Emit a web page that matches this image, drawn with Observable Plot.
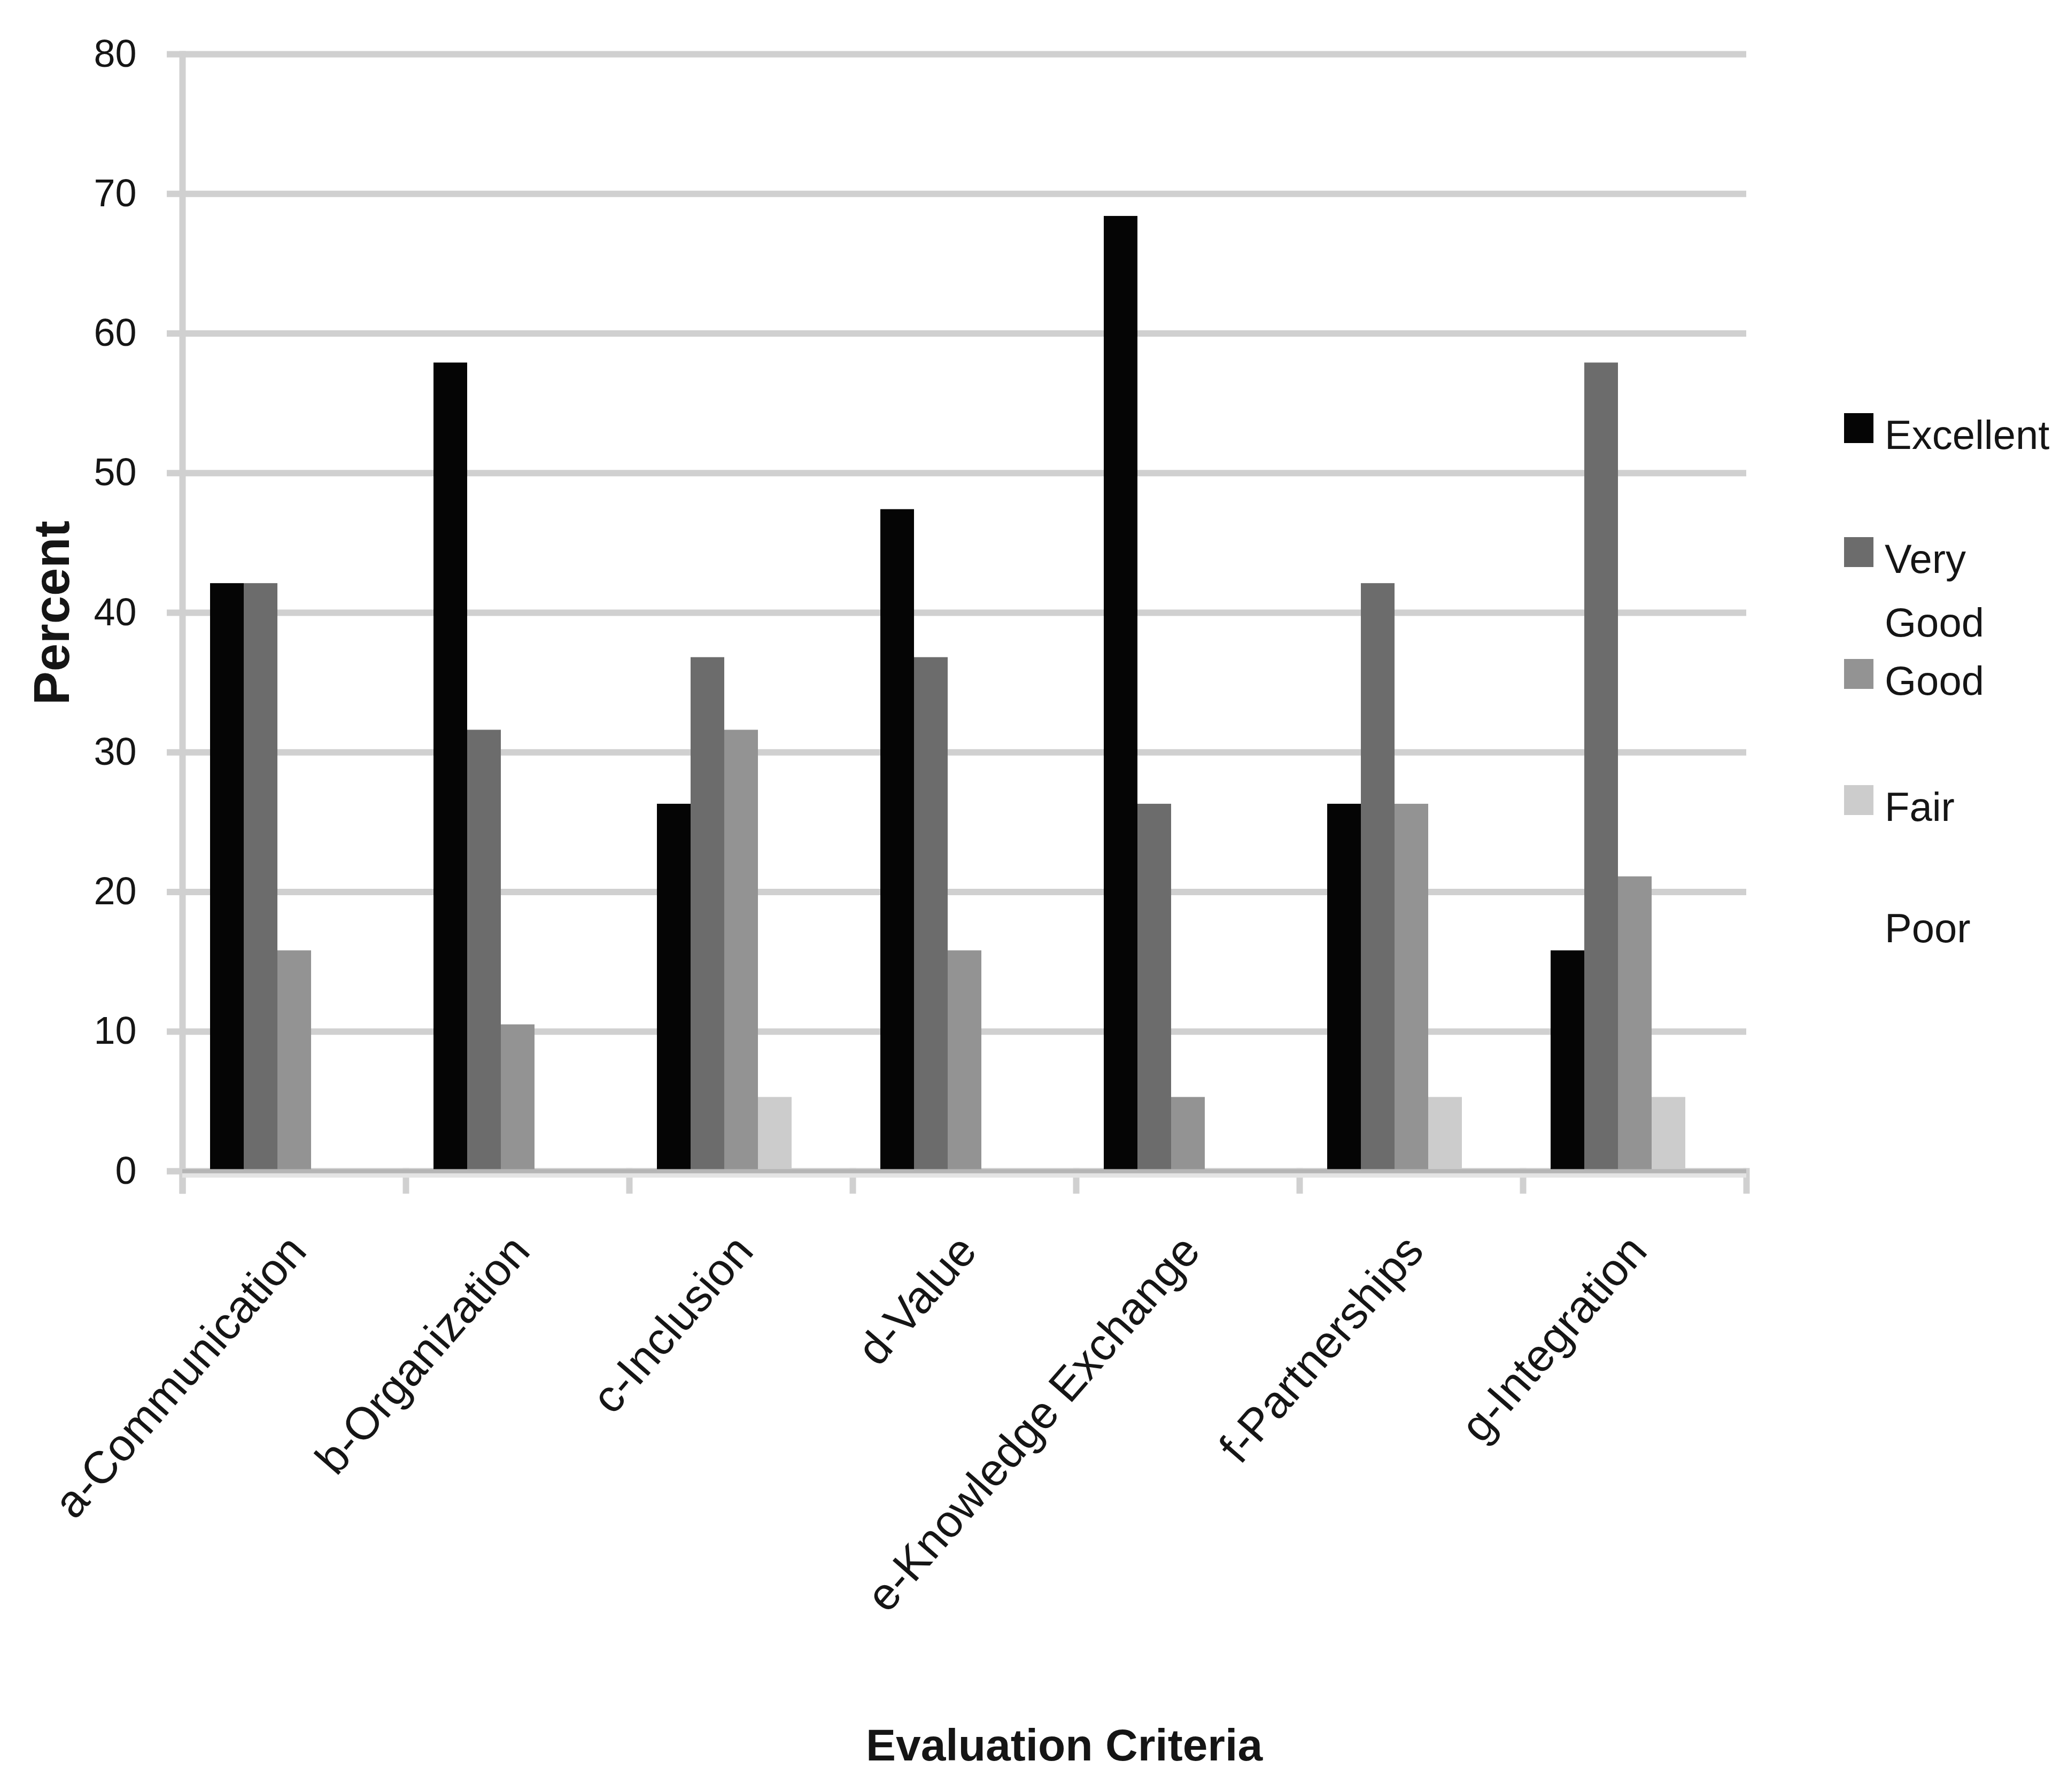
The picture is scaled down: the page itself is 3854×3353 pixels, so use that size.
<!DOCTYPE html>
<html>
<head>
<meta charset="utf-8">
<script src="https://cdn.jsdelivr.net/npm/d3@7"></script>
<script src="https://cdn.jsdelivr.net/npm/@observablehq/plot@0.6"></script>
<style>
  html, body { margin: 0; padding: 0; background: #fff; }
  #wrap { position: relative; width: 3854px; height: 3353px; font-family: "Liberation Sans", Arial, sans-serif; color: #151515; }
  #wrap svg g[aria-label="y-axis label"] { font-size: 94px; font-weight: bold; }
  .xtitle { position: absolute; left: 1991px; top: 3223px; transform: translateX(-50%); font-size: 84px; line-height: 84px; font-weight: bold; white-space: nowrap; }
  .leg { position: absolute; left: 3450px; display: flex; align-items: flex-start; }
  .leg .sw { width: 55px; height: 56px; margin-top: 19px; margin-right: 21px; flex: none; }
  .leg .lab { width: 320px; font-size: 76px; line-height: 119px; }
</style>
</head>
<body>
<div id="wrap"></div>
<script>
const categories = ["a-Communication", "b-Organization", "c-Inclusion", "d-Value", "e-Knowledge Exchange", "f-Partnerships", "g-Integration"];
const series = ["Excellent", "Very Good", "Good", "Fair", "Poor"];
const excellent = [42.1, 57.9, 26.3, 47.4, 68.4, 26.3, 15.8];
const veryGood  = [42.1, 31.6, 36.8, 36.8, 26.3, 42.1, 57.9];
const good      = [15.8, 10.5, 31.6, 15.8,  5.3, 26.3, 21.1];
const fair      = [ 0,    0,    5.3,  0,    0,    5.3,  5.3];
const poor      = [ 0,    0,    0,    0,    0,    0,    0  ];
const seriesColors = ["#050505", "#6c6c6c", "#939393", "#cccccc", "#ffffff"];
const yTicks = [0, 10, 20, 30, 40, 50, 60, 70, 80];

const valuesBySeries = [excellent, veryGood, good, fair, poor];
const rows = [];
categories.forEach((c, i) => {
  series.forEach((s, j) => rows.push({category: c, series: s, value: valuesBySeries[j][i]}));
});

const W = 3854, H = 3160;
const mTop = 101, mBottom = H - 2191, mLeft = 341, mRight = W - 3267;
const plotH = 2191 - mTop;
const gridColor = "#d0d0d0";

const chart = Plot.plot({
  width: W,
  height: H,
  marginTop: mTop,
  marginBottom: mBottom,
  marginLeft: mLeft,
  marginRight: mRight,
  style: {fontFamily: '"Liberation Sans", Arial, sans-serif', background: "#fff", color: "#151515", overflow: "visible"},
  fx: {domain: categories, padding: 0},
  x: {domain: series, paddingInner: 0, paddingOuter: 0.766, axis: null},
  y: {domain: [0, 80]},
  color: {domain: series, range: seriesColors},
  marks: [
    Plot.gridY(yTicks, {stroke: gridColor, strokeOpacity: 1, strokeWidth: 12}),
    Plot.axisY(yTicks, {tickSize: 29, stroke: gridColor, strokeOpacity: 1, strokeWidth: 12, tickFormat: () => "", label: null}),
    Plot.axisY(yTicks, {tickSize: 0, tickPadding: 86, fontSize: 72, label: "Percent", labelAnchor: "center", labelOffset: 279, labelArrow: false}),
    Plot.frame({anchor: "left", facetAnchor: "left", stroke: gridColor, strokeWidth: 12, insetBottom: -36}),
    Plot.frame({anchor: "left", stroke: gridColor, strokeWidth: 12, insetTop: plotH, insetBottom: -36}),
    Plot.frame({anchor: "right", facetAnchor: "right", stroke: gridColor, strokeWidth: 12, insetTop: plotH, insetBottom: -36}),
    Plot.barY(rows, {fx: "category", x: "series", y: "value", fill: "series"}),
    Plot.ruleY([0], {stroke: "#b5b5b5", strokeWidth: 8}),
    Plot.ruleY([0], {stroke: "#e4e4e4", strokeWidth: 8, dy: 8}),
    Plot.axisFx({anchor: "bottom", tickSize: 0, tickPadding: 134, tickRotate: -49, dx: 6, fontSize: 85, label: null})
  ]
});

const wrap = document.getElementById("wrap");
wrap.appendChild(chart);

const title = document.createElement("div");
title.className = "xtitle";
title.textContent = "Evaluation Criteria";
wrap.appendChild(title);

const legendTops = [754, 986, 1214, 1450, 1677];
series.forEach((s, j) => {
  const item = document.createElement("div");
  item.className = "leg";
  item.style.top = legendTops[j] + "px";
  const sw = document.createElement("div");
  sw.className = "sw";
  sw.style.background = seriesColors[j];
  const lab = document.createElement("div");
  lab.className = "lab";
  lab.textContent = s;
  item.appendChild(sw);
  item.appendChild(lab);
  wrap.appendChild(item);
});
</script>
</body>
</html>
